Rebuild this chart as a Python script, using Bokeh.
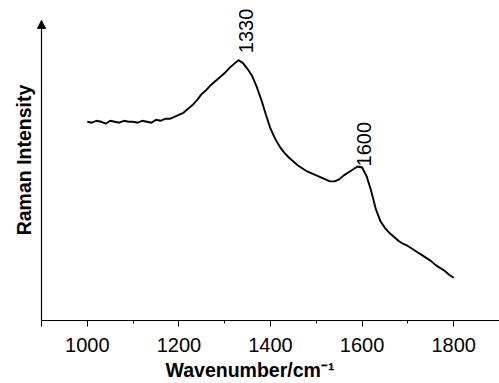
import math
from bokeh.plotting import figure
from bokeh.models import Range1d, FixedTicker, Label, Arrow, NormalHead
from bokeh.embed import file_html
from bokeh.resources import INLINE

# ---- data ----
wavenumber = [1000, 1010, 1020, 1030, 1040, 1050, 1060, 1070, 1080, 1090,
              1100, 1110, 1120, 1130, 1140, 1150, 1160, 1170, 1180, 1190,
              1200, 1210, 1220, 1230, 1240, 1250, 1260, 1270, 1280, 1290,
              1300, 1310, 1320, 1330, 1340, 1350, 1360, 1370, 1380, 1390,
              1400, 1410, 1420, 1430, 1440, 1450, 1460, 1470, 1480, 1490,
              1500, 1510, 1520, 1530, 1540, 1550, 1560, 1570, 1580, 1590,
              1600, 1610, 1620, 1630, 1640, 1650, 1660, 1670, 1680, 1690,
              1700, 1710, 1720, 1730, 1740, 1750, 1760, 1770, 1780, 1790,
              1800]
intensity = [200, 199, 201, 200, 198, 201, 200, 199, 201, 200,
             200, 199, 201, 200, 199, 202, 201, 203, 203, 205,
             207, 209, 213, 217, 222, 228, 232, 237, 241, 245,
             249, 254, 258, 262, 259, 253, 246, 235, 222, 207,
             193, 183, 175, 169, 164, 160, 156, 153, 150, 148,
             146, 144, 142, 140, 140, 142, 146, 149, 152, 155,
             154, 145, 130, 112, 100, 93, 88, 84, 80, 77,
             75, 72, 69, 66, 63, 60, 56, 53, 50, 46,
             43]
peak_positions = [1330, 1600]
peak_labels = ["1330", "1600"]
peak_heights = [262, 155]
major_ticks = [900, 1000, 1200, 1400, 1600, 1800]
minor_ticks = [1100, 1300, 1500, 1700, 1900]
x_title = "Wavenumber/cm\u207b\u00b9"
y_title = "Raman Intensity"

FONT = "Liberation Sans"
X_AXIS_START = 900
X_AXIS_END = 1900
Y_AXIS_TOP = 302

p = figure(width=499, height=383, output_backend="svg", toolbar_location=None,
           x_range=Range1d(810.48, 1900), y_range=Range1d(0, 322),
           y_axis_location=None,
           min_border_left=0, min_border_right=0, min_border_top=0,
           min_border_bottom=61)
p.outline_line_color = None
p.xgrid.visible = False
p.ygrid.visible = False
p.background_fill_color = "white"
p.border_fill_color = "white"

# spectrum
p.line(wavenumber, intensity, line_color="black", line_width=1.9)

# x axis
xa = p.xaxis[0]
xa.bounds = (X_AXIS_START, X_AXIS_END)
xa.ticker = FixedTicker(ticks=major_ticks, minor_ticks=minor_ticks)
xa.major_label_overrides = {900: ""}
xa.axis_line_color = "black"
xa.axis_line_width = 1.2
xa.major_tick_out = 6
xa.major_tick_in = 0
xa.minor_tick_out = 3
xa.minor_tick_in = 0
xa.major_tick_line_color = "black"
xa.minor_tick_line_color = "black"
xa.major_label_text_font = FONT
xa.major_label_text_font_size = "20px"
xa.major_label_text_color = "black"
xa.major_label_standoff = 11
xa.axis_label = x_title
xa.axis_label_text_font = FONT
xa.axis_label_text_font_style = "bold"
xa.axis_label_text_font_size = "19.5px"
xa.axis_label_text_color = "black"
xa.axis_label_standoff = 4

# y axis line with arrow head
p.add_layout(Arrow(end=NormalHead(size=8, fill_color="black", line_color="black", line_width=1),
                   x_start=X_AXIS_START, y_start=0, x_end=X_AXIS_START, y_end=Y_AXIS_TOP,
                   line_color="black", line_width=1.2))

# y axis title
p.add_layout(Label(x=862, y=161.5, text=y_title, angle=math.pi / 2,
                   text_align="center", text_baseline="alphabetic",
                   text_font=FONT, text_font_style="bold",
                   text_font_size="19.5px", text_color="black"))

# peak labels (rotated)
label_dx = [16, 4]
label_dy = [7, 0]
for xp, lab, yh, dx, dy in zip(peak_positions, peak_labels, peak_heights, label_dx, label_dy):
    p.add_layout(Label(x=xp + dx, y=yh + dy, text=lab, angle=math.pi / 2,
                       text_align="left", text_baseline="alphabetic",
                       text_font=FONT, text_font_size="20px", text_color="black"))

open("out.html", "w").write(file_html(p, INLINE))
